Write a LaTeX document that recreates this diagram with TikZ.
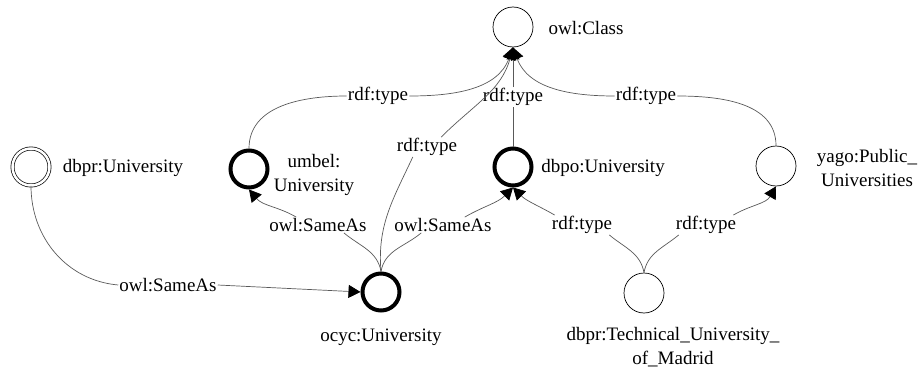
\documentclass[tikz,border=0pt]{standalone}
\usepackage{fontspec}
\setmainfont{Liberation Serif}
\usetikzlibrary{arrows.meta}

\tikzset{
  res/.style={circle,draw,minimum size=40pt,inner sep=0pt,line width=0.7pt},
  heavy/.style={res,line width=4pt,minimum size=37pt},
  twin/.style={res,double,double distance=2.5pt,minimum size=37pt},
  lbl/.style={font=\fontsize{19}{24}\selectfont,inner sep=1pt,align=center},
  edge/.style={draw=black!65,line width=0.7pt},
  tip/.style={edge,-{Triangle[length=12pt,width=13pt,color=black]}}
}

\begin{document}
\begin{tikzpicture}[x=1pt,y=-1pt]
        \useasboundingbox (0,0) rectangle (923,369);

        % resources
        \node[res] (cls) at (513,27) {};
        \node[twin] (dbpr) at (31,167) {};
        \node[heavy] (umbel) at (249,169) {};
        \node[heavy] (dbpo) at (513,167) {};
        \node[res] (yago) at (776,166) {};
        \node[heavy] (ocyc) at (381,292) {};
        \node[res] (upm) at (644,293) {};

        % resource names
        \node[lbl] (clsname) at (586,28) {owl:Class};
        \node[lbl] (dbprname) at (123,168) {dbpr:University};
        \node[lbl] (umbelname) at (314,175) {umbel:\\University};
        \node[lbl] (dbponame) at (603,168) {dbpo:University};
        \node[lbl] (yagoname) at (867,168) {yago:Public\_\\Universities};
        \node[lbl] (ocycname) at (381,337) {ocyc:University};
        \node[lbl] (upmname) at (673,347) {dbpr:Technical\_University\_\\of\_Madrid};

        % property labels
        \node[lbl] (t1) at (378,96) {rdf:type};
        \node[lbl] (t2) at (427,147) {rdf:type};
        \node[lbl] (t3) at (513,97) {rdf:type};
        \node[lbl] (t4) at (646,96) {rdf:type};
        \node[lbl] (s1) at (168,285) {owl:SameAs};
        \node[lbl] (s2) at (318,225) {owl:SameAs};
        \node[lbl] (s3) at (443,225) {owl:SameAs};
        \node[lbl] (t5) at (582,225) {rdf:type};
        \node[lbl] (t6) at (706,225) {rdf:type};

        % rdf:type to owl:Class
        \draw[edge] (umbel.north) to[out=90,in=180] (t1.west);
        \draw[tip] (t1.east) to[out=0,in=250] (cls.south);
        \draw[edge] (ocyc.north) to[out=95,in=245] (t2.-145);
        \draw[tip] (t2.35) to[out=45,in=255] (cls.south);
        \draw[edge] (dbpo.north) -- (t3.south);
        \draw[tip] (t3.north) -- (cls.south);
        \draw[edge] (yago.north) to[out=90,in=0] (t4.east);
        \draw[tip] (t4.west) to[out=180,in=290] (cls.south);

        % owl:SameAs
        \draw[edge] (dbpr.south) to[out=-90,in=175] (s1.west);
        \draw[tip] (s1.east) -- (ocyc.west);
        \draw[edge] (ocyc.north) to[out=100,in=-40] (s2.-17);
        \draw[tip] (s2.160) to[out=150,in=-50] (umbel.south);
        \draw[edge] (ocyc.north) to[out=80,in=-140] (s3.-160);
        \draw[tip] (s3.20) to[out=30,in=-135] (dbpo.south);

        % dbpr:Technical_University_of_Madrid
        \draw[edge] (upm.north) to[out=100,in=-40] (t5.-20);
        \draw[tip] (t5.160) to[out=150,in=-45] (dbpo.south);
        \draw[edge] (upm.north) to[out=80,in=-140] (t6.-160);
        \draw[tip] (t6.20) to[out=30,in=-120] (yago.south);
\end{tikzpicture}
\end{document}
